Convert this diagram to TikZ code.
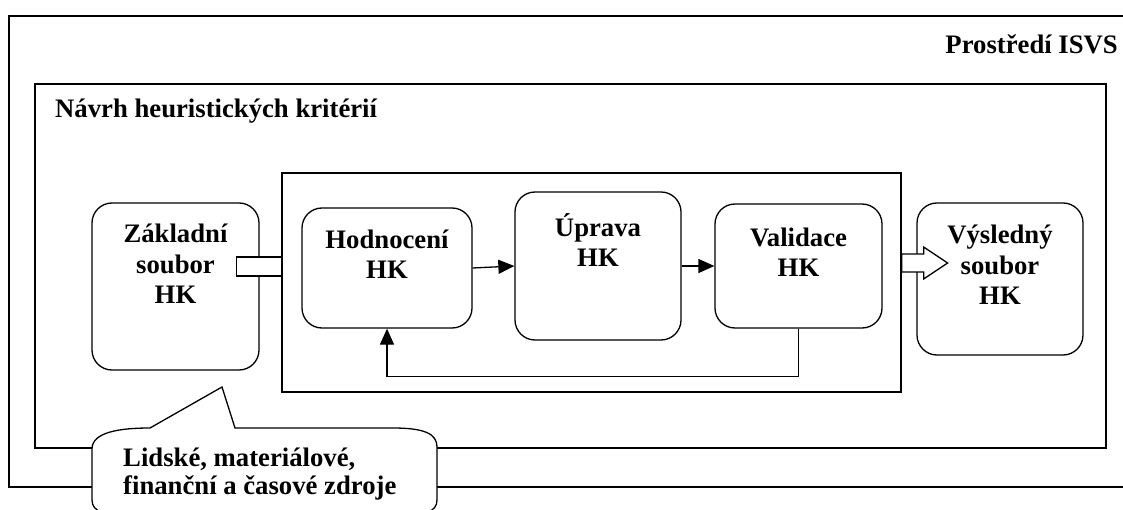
\documentclass[tikz,border=0pt]{standalone}
\usepackage{fontspec}
\setmainfont{Liberation Serif}
\usetikzlibrary{arrows.meta,calc}

\tikzset{
  frame/.style={draw, line width=1.3pt},
  hkbox/.style={draw, line width=1.3pt, rounded corners=20pt, inner sep=0pt, fill=white},
  hktext/.style={font=\fontsize{26.7}{30.5}\selectfont\bfseries, align=center, inner sep=0pt},
  flow/.style={line width=1.3pt, -{Triangle[length=16pt,width=14pt]}},
  blockarrow/.style={draw, line width=1.3pt, fill=white},
}

\begin{document}
\begin{tikzpicture}[x=1pt,y=-1pt]
\useasboundingbox (0,0) rectangle (1123,510);
\clip (0,0) rectangle (1123,510);

% outer environment and design frames
\draw[frame] (9,16) rectangle (1140,487);
\node[hktext, anchor=east] (env) at (1118,44) {Prostředí ISVS};
\draw[frame] (35,84) rectangle (1106,448);
\node[hktext, anchor=west] (design) at (55,111) {Návrh heuristických kritérií};

% process frame
\node[frame, minimum width=619pt, minimum height=219pt, inner sep=0pt] (proc) at (591.5,282.5) {};

% boxes
\node[hkbox, minimum width=167pt, minimum height=167pt] (zakl) at (175.5,286.5) {};
\node[hkbox, minimum width=170pt, minimum height=120pt] (hodn) at (387,268) {};
\node[hkbox, minimum width=166pt, minimum height=148pt] (uprava) at (598,266) {};
\node[hkbox, minimum width=167pt, minimum height=124pt] (valid) at (798.5,266) {};
\node[hkbox, minimum width=166pt, minimum height=152pt] (vysl) at (1000,279) {};

% box labels
\node[hktext] (zaklT) at (175.5,264) {Základní\\soubor\\HK};
\node[hktext] (hodnT) at (387,254) {Hodnocení\\HK};
\node[hktext] (upravaT) at (598,240) {Úprava\\HK};
\node[hktext] (validT) at (798.5,252) {Validace\\HK};
\node[hktext] (vyslT) at (1000,265) {Výsledný\\soubor\\HK};

% flow between steps
\draw[flow] (hodn.east) -- (uprava.west);
\draw[flow] (uprava.east) -- (valid.west);
\draw[flow] (valid.south) -- ++(0,48) -| (hodn.south);

% input and output block arrows
\coordinate (inL) at (proc.west |- 0,266.5);
\draw[blockarrow] ($(inL)+(-45,-9.5)$) rectangle ($(inL)+(0,9.5)$);
\coordinate (outR) at (proc.east |- 0,263);
\draw[blockarrow] (outR) ++(0,-9) -- ++(22,0) -- ++(0,-7) -- ++(24,16)
  -- ++(-24,16) -- ++(0,-7) -- ++(-22,0) -- cycle;

% resources callout
\draw[line width=1.3pt, fill=white]
  (150,428) -- (222,387) -- (235,428) -- (393,428)
  .. controls (425,428) and (437,434) .. (437,447) -- (437,500)
  .. controls (437,512) and (425,516) .. (393,516) -- (135,516)
  .. controls (105,516) and (92,512) .. (92,500) -- (92,449)
  .. controls (92,432) and (120,428) .. (150,428) -- cycle;
\node[font=\fontsize{26.7}{28}\selectfont\bfseries, align=left, inner sep=0pt, anchor=west] (res) at (123,474) {Lidské, materiálové,\\finanční a časové zdroje};
\end{tikzpicture}
\end{document}
